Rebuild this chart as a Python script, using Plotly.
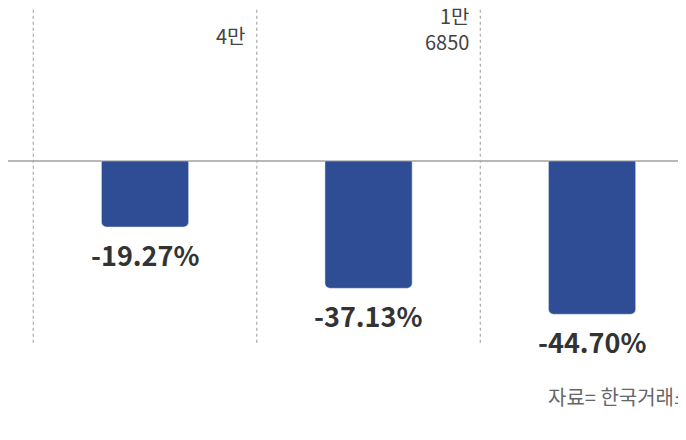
import plotly.graph_objects as go

cats = [0, 1, 2]
values = [-19.27, -37.13, -44.70]
labels = ["-19.27%", "-37.13%", "-44.70%"]

fig = go.Figure()
fig.add_trace(go.Bar(x=cats, y=values, width=0.39, marker=dict(color="#2f4d94", cornerradius=5),
                     hoverinfo="skip"))
fig.add_shape(type="line", x0=-0.8, x1=2.6, y0=0, y1=0, line=dict(color="#b8b8b8", width=2), layer="below")
for d in [-0.5, 0.5, 1.5]:
    fig.add_shape(type="line", x0=d, x1=d, y0=-53, y1=50, line=dict(color="#aaaaaa", width=1.2, dash="dot"))
for c, v, t in zip(cats, values, labels):
    fig.add_annotation(x=c, y=v, text="<b>"+t+"</b>", showarrow=False, yanchor="top", yshift=-6,
                       font=dict(size=27, color="#333333", family="Noto Sans CJK KR"))
fig.add_annotation(x=0.46, y=36.5, text="4만", showarrow=False, xanchor="right", yanchor="middle",
                   font=dict(size=20, color="#444444", family="Noto Sans CJK KR"))
fig.add_annotation(x=1.46, y=38.5, text="1만<br>6850", showarrow=False, xanchor="right", yanchor="middle",
                   align="right", font=dict(size=20, color="#444444", family="Noto Sans CJK KR"))
fig.add_annotation(xref="paper", yref="paper", x=1.0, y=(440-388)/440, text="자료= 한국거래소",
                   showarrow=False, xanchor="right", yanchor="middle",
                   font=dict(size=20, color="#666666", family="Noto Sans CJK KR"))
fig.update_layout(width=686, height=440, margin=dict(l=0, r=0, t=0, b=0),
                  plot_bgcolor="white", paper_bgcolor="white", showlegend=False,
                  xaxis=dict(range=[-0.613, 2.456], visible=False),
                  yaxis=dict(range=[-83.7, 44.6], visible=False))
fig.write_html("out.html")
